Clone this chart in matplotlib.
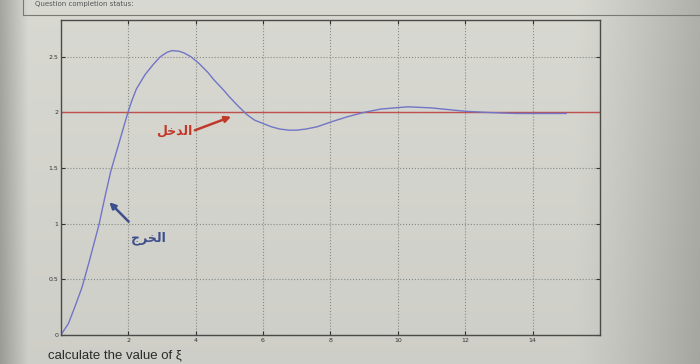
import numpy as np
import matplotlib
matplotlib.use("Agg")
import matplotlib.pyplot as plt

# step response (time, output)
t_out = [0, 0.22, 0.4, 0.63, 0.85, 1.13, 1.3, 1.48, 1.75, 1.99, 2.1, 2.24,
         2.5, 2.74, 2.95, 3.15, 3.3, 3.5, 3.65, 3.86, 4.1, 4.36, 4.55, 4.8,
         5.0, 5.25, 5.52, 5.75, 6.0, 6.25, 6.5, 6.77, 7.0, 7.27, 7.6, 8.08,
         8.5, 9.0, 9.5, 10.3, 11.0, 12.0, 12.6, 13.5, 15.0]
y_out = [0, 0.10, 0.24, 0.43, 0.67, 0.99, 1.23, 1.47, 1.75, 2.0, 2.10, 2.21,
         2.34, 2.43, 2.50, 2.54, 2.555, 2.55, 2.535, 2.50, 2.44, 2.36, 2.29,
         2.21, 2.14, 2.06, 1.98, 1.93, 1.90, 1.87, 1.85, 1.84, 1.84, 1.85,
         1.87, 1.92, 1.96, 2.0, 2.03, 2.05, 2.04, 2.01, 2.0, 1.99, 1.99]

# input (red line)
t_in = [0, 16]
y_in = [2, 2]

xticks = [2, 4, 6, 8, 10, 12, 14]
yticks = [0, 0.5, 1, 1.5, 2, 2.5]
ytick_labels = ["0", "0.5", "1", "1.5", "2", "2.5"]

# arabic labels, written in visual order with presentation forms
# since matplotlib does no shaping: "الدخل" (input), "الخرج" (output)
lbl_in = "\uFEDE\uFEA7\uFEAA\uFEDF\uFE8D"
lbl_out = "\uFE9D\uFEAE\uFEA8\uFEDF\uFE8D"

fig = plt.figure(figsize=(7, 3.64), dpi=100)

# photo-ish background: light in the middle, darker toward the edges
bg = fig.add_axes([0, 0, 1, 1])
xs = np.linspace(0, 1, 700)
ys = np.linspace(0, 1, 364)
X, Y = np.meshgrid(xs, ys)
shade = 0.85 - 0.16 * np.clip((X - 0.82) / 0.18, 0, 1) ** 1.2 \
    - 0.20 * np.clip((0.04 - X) / 0.04, 0, 1) - 0.04 * Y
rgb = np.dstack([shade, shade, shade * 0.97])
bg.imshow(rgb, extent=[0, 1, 0, 1], aspect="auto", origin="upper")
bg.set_axis_off()
bg.plot([0.033, 1.0], [0.958, 0.958], color="#7a7a75", lw=0.8)
bg.plot([0.033, 0.033], [0.958, 1.0], color="#7a7a75", lw=0.8)
bg.set_xlim(0, 1)
bg.set_ylim(0, 1)
bg.text(0.05, 0.997, "Question completion status:", fontsize=5,
        color="#555555", va="top")

ax = fig.add_axes([0.087, 0.080, 0.770, 0.865])
ax.set_facecolor("none")
ax.plot(t_in, y_in, color="#c0504d", lw=1.0)
ax.plot(t_out, y_out, color="#7075c6", lw=1.0)

ax.set_xlim(0, 16)
ax.set_ylim(0, 2.83)
ax.set_xticks(xticks)
ax.set_yticks(yticks)
ax.set_yticklabels(ytick_labels)
ax.tick_params(direction="in", length=3, width=0.8, labelsize=4.5,
               colors="#333333", top=True, right=True, pad=2)
ax.grid(True, linestyle=":", color="#8a8a85", lw=0.8)
for s in ax.spines.values():
    s.set_color("#4a4a48")
    s.set_linewidth(1.0)

ax.annotate("", xy=(5.13, 1.97), xytext=(3.9, 1.83),
            arrowprops=dict(arrowstyle="-|>", color="#c0392b", lw=1.8,
                            mutation_scale=9))
ax.text(3.9, 1.83, lbl_in, color="#c0392b", fontsize=9, ha="right",
        va="center", family="DejaVu Sans", fontweight="bold")

ax.annotate("", xy=(1.38, 1.21), xytext=(2.07, 1.0),
            arrowprops=dict(arrowstyle="-|>", color="#3d4f8c", lw=1.8,
                            mutation_scale=9))
ax.text(2.6, 0.87, lbl_out, color="#3d4f8c", fontsize=9, ha="center",
        va="center", family="DejaVu Sans", fontweight="bold")

fig.text(0.069, 0.025, "calculate the value of \u03be", fontsize=9.5,
         color="#2a2a2a", family="Liberation Sans", va="center")

fig.savefig("out.png", dpi=100)
